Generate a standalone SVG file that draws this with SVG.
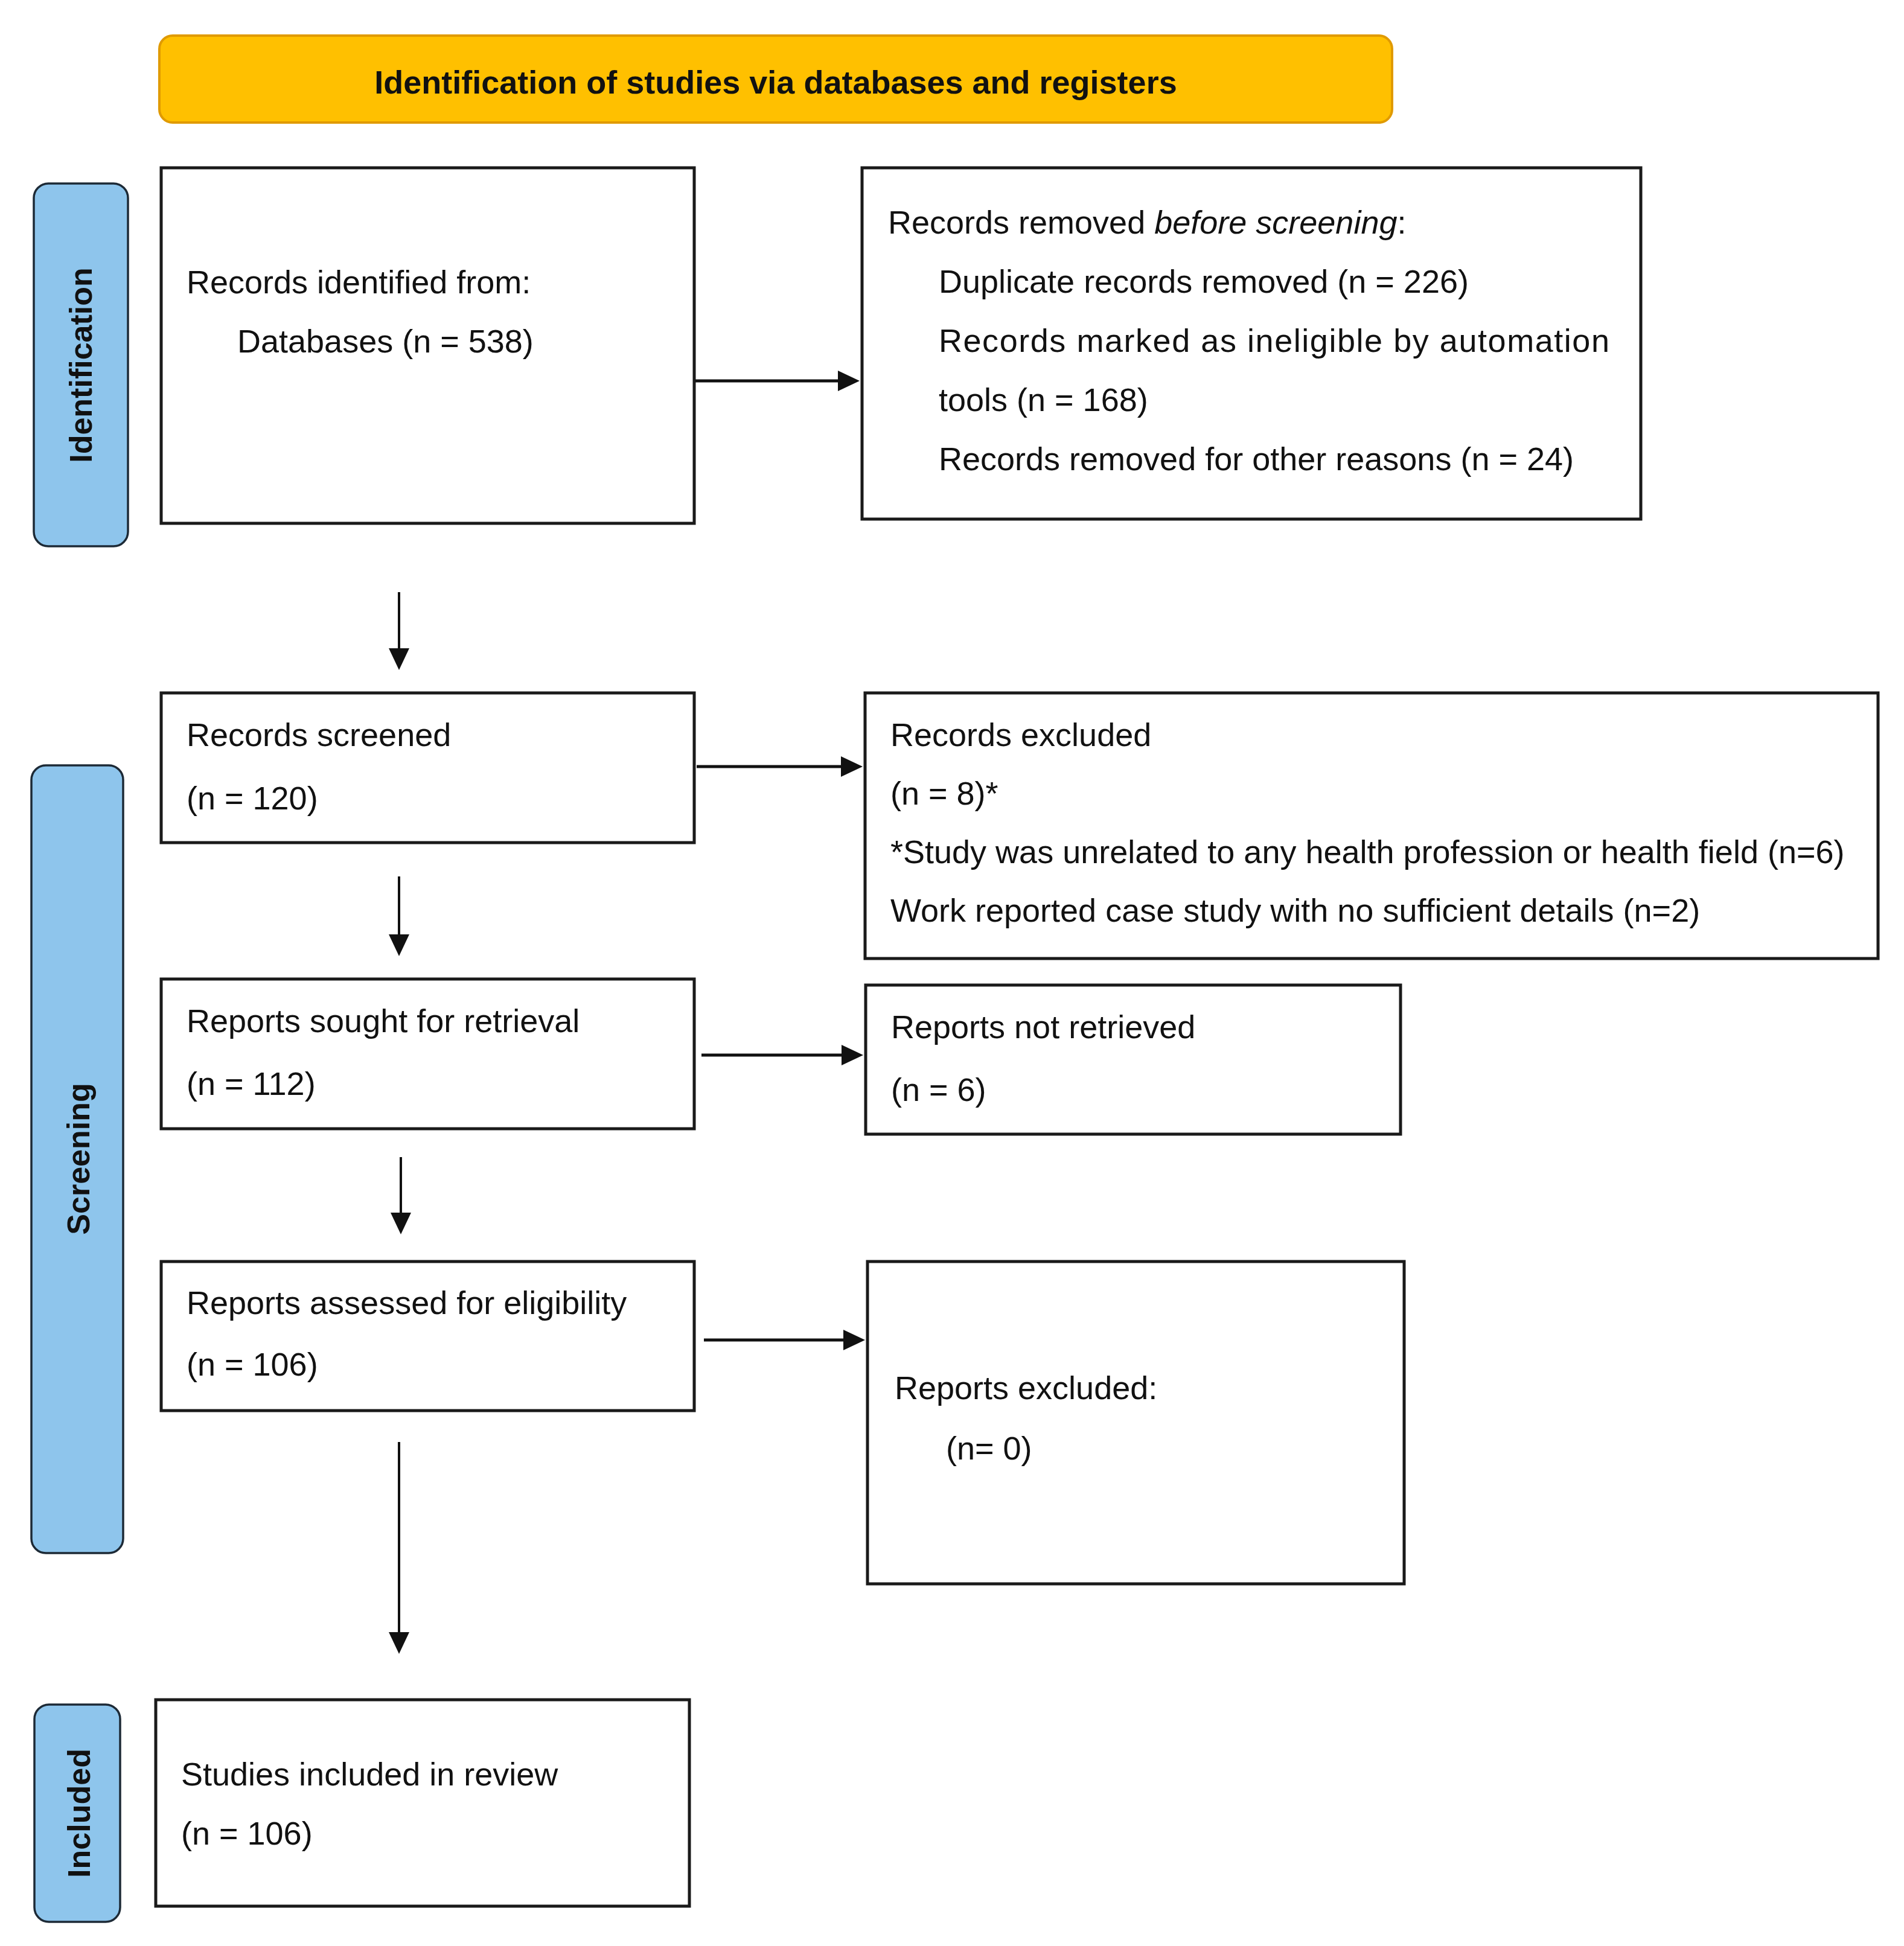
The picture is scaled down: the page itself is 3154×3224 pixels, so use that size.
<svg xmlns="http://www.w3.org/2000/svg" width="3154" height="3224" viewBox="0 0 3154 3224">
<style>
.box{fill:#fff;stroke:#1a1a1a;stroke-width:5}
.side{fill:#8EC5EC;stroke:#1d2a36;stroke-width:3.5}
.t{font-family:"Liberation Sans",Arial,sans-serif;font-size:54px;fill:#111}
.sl{font-family:"Liberation Sans",Arial,sans-serif;font-size:52px;font-weight:bold;fill:#111;text-anchor:middle}
.title{font-family:"Liberation Sans",Arial,sans-serif;font-size:54px;font-weight:bold;fill:#111;text-anchor:middle}
.h{fill:none;stroke:#111;stroke-width:5}
.v{fill:none;stroke:#111;stroke-width:4}
</style>
<defs>
<marker id="ah" viewBox="0 0 36 34" refX="16" refY="17" markerWidth="36" markerHeight="34" markerUnits="userSpaceOnUse" orient="auto">
<path d="M0,0 L36,17 L0,34 z" fill="#111"/>
</marker>
</defs>
<rect width="3154" height="3224" fill="#fff"/>
<g id="title">
<rect x="264" y="59" width="2042" height="144" rx="22" fill="#FFC000" stroke="#E09A00" stroke-width="4"/>
<text class="title" x="1285" y="155">Identification of studies via databases and registers</text>
</g>
<g id="label-identification">
<rect class="side" x="56" y="304" width="156" height="601" rx="24"/>
<text class="sl" transform="translate(152,605) rotate(-90)">Identification</text>
</g>
<g id="label-screening">
<rect class="side" x="52" y="1268" width="152" height="1305" rx="24"/>
<text class="sl" transform="translate(148,1920) rotate(-90)">Screening</text>
</g>
<g id="label-included">
<rect class="side" x="57" y="2824" width="142" height="360" rx="24"/>
<text class="sl" transform="translate(149,3004) rotate(-90)">Included</text>
</g>
<g id="records-identified">
<rect class="box" x="267" y="278" width="883" height="589"/>
<text class="t" x="309" y="486">Records identified from:</text>
<text class="t" x="393" y="584">Databases (n = 538)</text>
</g>
<g id="records-removed">
<rect class="box" x="1428" y="278" width="1290" height="582"/>
<text class="t" x="1471" y="387">Records removed <tspan font-style="italic">before screening</tspan>:</text>
<text class="t" x="1555" y="485">Duplicate records removed (n = 226)</text>
<text class="t" x="1555" y="583" textLength="1111" lengthAdjust="spacing">Records marked as ineligible by automation</text>
<text class="t" x="1555" y="681">tools (n = 168)</text>
<text class="t" x="1555" y="779">Records removed for other reasons (n = 24)</text>
</g>
<g id="records-screened">
<rect class="box" x="267" y="1148" width="883" height="248"/>
<text class="t" x="309" y="1236">Records screened</text>
<text class="t" x="309" y="1341">(n = 120)</text>
</g>
<g id="records-excluded">
<rect class="box" x="1433" y="1148" width="1678" height="440"/>
<text class="t" x="1475" y="1236">Records excluded</text>
<text class="t" x="1475" y="1333">(n = 8)*</text>
<text class="t" x="1475" y="1430">*Study was unrelated to any health profession or health field (n=6)</text>
<text class="t" x="1475" y="1527">Work reported case study with no sufficient details (n=2)</text>
</g>
<g id="reports-sought">
<rect class="box" x="267" y="1622" width="883" height="248"/>
<text class="t" x="309" y="1710">Reports sought for retrieval</text>
<text class="t" x="309" y="1814">(n = 112)</text>
</g>
<g id="reports-not-retrieved">
<rect class="box" x="1434" y="1632" width="886" height="247"/>
<text class="t" x="1476" y="1720">Reports not retrieved</text>
<text class="t" x="1476" y="1824">(n = 6)</text>
</g>
<g id="reports-assessed">
<rect class="box" x="267" y="2090" width="883" height="247"/>
<text class="t" x="309" y="2177">Reports assessed for eligibility</text>
<text class="t" x="309" y="2279">(n = 106)</text>
</g>
<g id="reports-excluded">
<rect class="box" x="1437" y="2090" width="889" height="534"/>
<text class="t" x="1482" y="2318">Reports excluded:</text>
<text class="t" x="1567" y="2418">(n= 0)</text>
</g>
<g id="studies-included">
<rect class="box" x="258" y="2816" width="884" height="342"/>
<text class="t" x="300" y="2958">Studies included in review</text>
<text class="t" x="300" y="3056">(n = 106)</text>
</g>
<g id="connectors">
<line class="h" x1="1152" y1="631" x2="1404" y2="631" marker-end="url(#ah)"/>
<line class="h" x1="1154" y1="1270" x2="1409" y2="1270" marker-end="url(#ah)"/>
<line class="h" x1="1162" y1="1748" x2="1410" y2="1748" marker-end="url(#ah)"/>
<line class="h" x1="1166" y1="2220" x2="1413" y2="2220" marker-end="url(#ah)"/>
<line class="v" x1="661" y1="981" x2="661" y2="1090" marker-end="url(#ah)"/>
<line class="v" x1="661" y1="1452" x2="661" y2="1564" marker-end="url(#ah)"/>
<line class="v" x1="664" y1="1917" x2="664" y2="2025" marker-end="url(#ah)"/>
<line class="v" x1="661" y1="2389" x2="661" y2="2720" marker-end="url(#ah)"/>
</g>
</svg>
